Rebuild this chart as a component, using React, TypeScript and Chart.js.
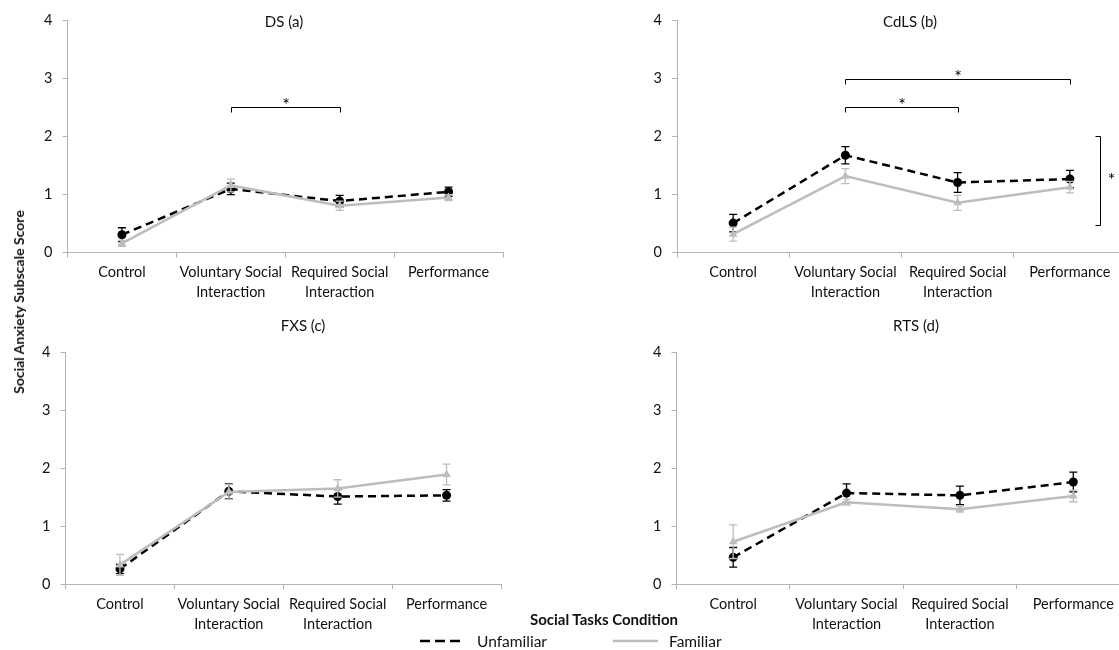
import React, { useEffect, useRef } from 'react';
import { Chart, registerables } from 'chart.js';

Chart.register(...registerables);

// ---------- data ----------
const categories: (string | string[])[] = [
  'Control',
  ['Voluntary Social', 'Interaction'],
  ['Required Social', 'Interaction'],
  'Performance',
];
const yTicks = [0, 1, 2, 3, 4];

const dsUnfamiliar = [0.31, 1.1, 0.89, 1.05];
const dsUnfamiliarErr = [0.12, 0.1, 0.1, 0.08];
const dsFamiliar = [0.16, 1.16, 0.81, 0.95];
const dsFamiliarErr = [0.05, 0.11, 0.08, 0.05];

const cdlsUnfamiliar = [0.51, 1.68, 1.21, 1.27];
const cdlsUnfamiliarErr = [0.15, 0.15, 0.17, 0.15];
const cdlsFamiliar = [0.32, 1.32, 0.86, 1.13];
const cdlsFamiliarErr = [0.12, 0.13, 0.13, 0.1];

const fxsUnfamiliar = [0.26, 1.6, 1.51, 1.53];
const fxsUnfamiliarErr = [0.08, 0.13, 0.13, 0.1];
const fxsFamiliar = [0.33, 1.59, 1.65, 1.89];
const fxsFamiliarErr = [0.18, 0.13, 0.15, 0.18];

const rtsUnfamiliar = [0.46, 1.57, 1.53, 1.76];
const rtsUnfamiliarErr = [0.17, 0.16, 0.16, 0.17];
const rtsFamiliar = [0.73, 1.41, 1.29, 1.52];
const rtsFamiliarErr = [0.29, 0.05, 0.05, 0.1];

// significance brackets (category index, value units)
const dsBrackets = [{ from: 1, to: 2, at: 2.52 }];
const cdlsBrackets = [
  { from: 1, to: 3, at: 3.0 },
  { from: 1, to: 2, at: 2.52 },
];
const cdlsVBrackets = [{ x: 3.27, from: 0.47, to: 2.02 }];

// ---------- styles ----------
const FONT = 'Lato, "Open Sans", sans-serif';
const AXIS = '#B4B4B4';
const GRAY = '#BDBDBD';
const TEXT = '#111111';
const TICK_SIZE = 14.5;

const errorBarPlugin = {
  id: 'errorBars',
  afterDatasetDraw(chart: any, args: any) {
    const ds: any = chart.data.datasets[args.index];
    const errs: number[] = ds.errors;
    if (!errs) return;
    const ctx = chart.ctx;
    const y = chart.scales.y;
    ctx.save();
    ctx.strokeStyle = ds.errColor;
    ctx.lineWidth = 1.3;
    args.meta.data.forEach((pt: any, i: number) => {
      const v = ds.data[i];
      const yt = y.getPixelForValue(v + errs[i]);
      const yb = y.getPixelForValue(v - errs[i]);
      const x = pt.x;
      ctx.beginPath();
      ctx.moveTo(x, yt);
      ctx.lineTo(x, yb);
      ctx.moveTo(x - 4, yt);
      ctx.lineTo(x + 4, yt);
      ctx.moveTo(x - 4, yb);
      ctx.lineTo(x + 4, yb);
      ctx.stroke();
    });
    ctx.restore();
  },
};

const bracketPlugin = {
  id: 'brackets',
  afterDraw(chart: any) {
    const opts: any = chart.options.plugins.brackets || {};
    const hb: any[] = opts.h || [];
    const vb: any[] = opts.v || [];
    const ctx = chart.ctx;
    const xs = chart.scales.x;
    const ys = chart.scales.y;
    ctx.save();
    ctx.strokeStyle = '#000';
    ctx.fillStyle = '#000';
    ctx.lineWidth = 1;
    ctx.font = `18px ${FONT}`;
    ctx.textAlign = 'center';
    ctx.textBaseline = 'alphabetic';
    hb.forEach((b) => {
      const x1 = Math.round(xs.getPixelForValue(b.from)) + 0.5;
      const x2 = Math.round(xs.getPixelForValue(b.to)) + 0.5;
      const yy = Math.round(ys.getPixelForValue(b.at)) + 0.5;
      ctx.beginPath();
      ctx.moveTo(x1, yy + 5);
      ctx.lineTo(x1, yy);
      ctx.lineTo(x2, yy);
      ctx.lineTo(x2, yy + 5);
      ctx.stroke();
      ctx.fillText('*', (x1 + x2) / 2, yy + 3);
    });
    vb.forEach((b) => {
      const xx = Math.round(xs.getPixelForValue(b.x)) + 0.5;
      const y1 = Math.round(ys.getPixelForValue(b.to)) + 0.5;
      const y2 = Math.round(ys.getPixelForValue(b.from)) + 0.5;
      ctx.beginPath();
      ctx.moveTo(xx - 5, y1);
      ctx.lineTo(xx, y1);
      ctx.lineTo(xx, y2);
      ctx.lineTo(xx - 5, y2);
      ctx.stroke();
      ctx.fillText('*', xx + 11, (y1 + y2) / 2 + 5);
    });
    ctx.restore();
  },
};

type PanelProps = {
  left: number;
  top: number;
  width: number;
  height: number;
  areaLeft: number;
  areaRight: number;
  areaTop: number;
  areaBottom: number;
  unf: number[];
  unfErr: number[];
  fam: number[];
  famErr: number[];
  hBrackets?: any[];
  vBrackets?: any[];
};

function Panel(p: PanelProps) {
  const ref = useRef<HTMLCanvasElement>(null);
  useEffect(() => {
    const tickFont = { family: FONT, size: TICK_SIZE, lineHeight: 20 / TICK_SIZE };
    const chart = new Chart(ref.current as HTMLCanvasElement, {
      type: 'line',
      data: {
        labels: categories as any,
        datasets: [
          {
            label: 'Familiar',
            data: p.fam,
            errors: p.famErr,
            errColor: GRAY,
            borderColor: GRAY,
            backgroundColor: GRAY,
            borderWidth: 2.5,
            pointStyle: 'triangle',
            pointRadius: 5,
            pointBorderWidth: 0,
            pointBackgroundColor: GRAY,
            tension: 0,
          } as any,
          {
            label: 'Unfamiliar',
            data: p.unf,
            errors: p.unfErr,
            errColor: '#000',
            borderColor: '#000',
            backgroundColor: '#000',
            borderWidth: 2.5,
            borderDash: [8, 5],
            pointStyle: 'circle',
            pointRadius: 4.5,
            pointBorderWidth: 0,
            pointBackgroundColor: '#000',
            tension: 0,
          } as any,
        ],
      },
      options: {
        animation: false,
        responsive: false,
        maintainAspectRatio: false,
        layout: {
          padding: { left: 0, right: p.width - p.areaRight, top: p.areaTop, bottom: 0 },
        },
        plugins: {
          legend: { display: false },
          tooltip: { enabled: false },
          title: { display: false },
          brackets: { h: p.hBrackets || [], v: p.vBrackets || [] },
        } as any,
        scales: {
          x: {
            offset: true,
            grid: {
              offset: true,
              drawOnChartArea: false,
              drawTicks: true,
              tickLength: 5,
              color: AXIS,
            },
            border: { color: AXIS, width: 1 },
            ticks: { font: tickFont, color: TEXT, padding: 5, maxRotation: 0, autoSkip: false },
            afterFit: (s: any) => {
              s.height = p.height - p.areaBottom;
            },
          } as any,
          y: {
            min: yTicks[0],
            max: yTicks[yTicks.length - 1],
            ticks: { stepSize: 1, font: { family: FONT, size: TICK_SIZE }, color: TEXT, padding: 10 },
            grid: { drawOnChartArea: false, tickLength: 5, color: AXIS },
            border: { color: AXIS, width: 1 },
            afterFit: (s: any) => {
              s.width = p.areaLeft;
            },
          } as any,
        },
      },
      plugins: [errorBarPlugin, bracketPlugin],
    });
    return () => chart.destroy();
  }, []);
  return (
    <canvas
      ref={ref}
      width={p.width}
      height={p.height}
      style={{ position: 'absolute', left: p.left, top: p.top, width: p.width, height: p.height }}
    />
  );
}

function Label(props: {
  x: number;
  y: number;
  text: string;
  size?: number;
  bold?: boolean;
  align?: 'left' | 'center';
  rotate?: boolean;
}) {
  const tx = props.align === 'left' ? '0' : '-50%';
  return (
    <div
      style={{
        position: 'absolute',
        left: props.x,
        top: props.y,
        transform: `translate(${tx}, -50%)${props.rotate ? ' rotate(-90deg)' : ''}`,
        fontFamily: FONT,
        fontSize: props.size || 14,
        fontWeight: props.bold ? 700 : 400,
        color: TEXT,
        whiteSpace: 'nowrap',
        lineHeight: 1,
      }}
    >
      {props.text}
    </div>
  );
}

export default function App() {
  return (
    <div
      style={{
        position: 'absolute',
        left: 0,
        top: 0,
        width: 1119,
        height: 650,
        overflow: 'hidden',
        background: '#fff',
      }}
    >
      <Panel
        left={0}
        top={0}
        width={560}
        height={310}
        areaLeft={67.5}
        areaRight={503}
        areaTop={20.7}
        areaBottom={252.7}
        unf={dsUnfamiliar}
        unfErr={dsUnfamiliarErr}
        fam={dsFamiliar}
        famErr={dsFamiliarErr}
        hBrackets={dsBrackets}
      />
      <Panel
        left={560}
        top={0}
        width={600}
        height={310}
        areaLeft={117}
        areaRight={566}
        areaTop={20.7}
        areaBottom={252.7}
        unf={cdlsUnfamiliar}
        unfErr={cdlsUnfamiliarErr}
        fam={cdlsFamiliar}
        famErr={cdlsFamiliarErr}
        hBrackets={cdlsBrackets}
        vBrackets={cdlsVBrackets}
      />
      <Panel
        left={0}
        top={310}
        width={560}
        height={340}
        areaLeft={65.5}
        areaRight={501}
        areaTop={42.3}
        areaBottom={274}
        unf={fxsUnfamiliar}
        unfErr={fxsUnfamiliarErr}
        fam={fxsFamiliar}
        famErr={fxsFamiliarErr}
      />
      <Panel
        left={560}
        top={310}
        width={600}
        height={340}
        areaLeft={116.5}
        areaRight={570}
        areaTop={42.3}
        areaBottom={274}
        unf={rtsUnfamiliar}
        unfErr={rtsUnfamiliarErr}
        fam={rtsFamiliar}
        famErr={rtsFamiliarErr}
      />

      <Label x={284} y={21} text="DS (a)" size={15} />
      <Label x={910} y={21} text="CdLS (b)" size={15} />
      <Label x={303} y={325} text="FXS (c)" size={15} />
      <Label x={916} y={325} text="RTS (d)" size={15} />

      <Label x={19} y={302} text="Social Anxiety Subscale Score" size={14} bold rotate />
      <Label x={604} y={619} text="Social Tasks Condition" size={15} bold />

      <svg
        style={{ position: 'absolute', left: 418, top: 636 }}
        width={48}
        height={10}
      >
        <line x1={2} y1={5} x2={44} y2={5} stroke="#000" strokeWidth={2.5} strokeDasharray="10 5" />
      </svg>
      <Label x={477} y={642} text="Unfamiliar" size={15.5} align="left" />
      <svg
        style={{ position: 'absolute', left: 611, top: 636 }}
        width={50}
        height={10}
      >
        <line x1={2} y1={5} x2={47} y2={5} stroke={GRAY} strokeWidth={2.5} />
      </svg>
      <Label x={669} y={642} text="Familiar" size={15.5} align="left" />
    </div>
  );
}
